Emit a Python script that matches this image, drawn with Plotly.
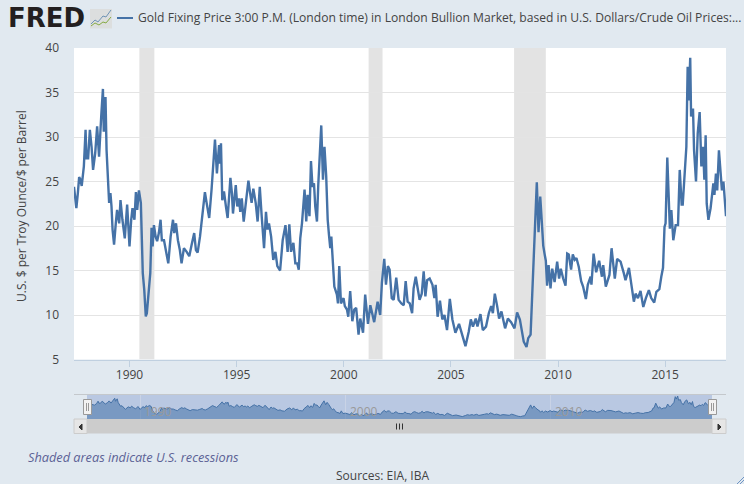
import plotly.graph_objects as go

W = 744
H = 484

years = [
    1987.41, 1987.46, 1987.52, 1987.59, 1987.65, 1987.71, 1987.77, 1987.87, 1987.95, 1987.99, 1988.07, 1988.15,
    1988.23, 1988.30, 1988.40, 1988.49, 1988.58, 1988.68, 1988.76, 1988.80, 1988.88, 1988.93, 1988.99, 1989.05,
    1989.11, 1989.16, 1989.21, 1989.28, 1989.36, 1989.42, 1989.52, 1989.58, 1989.67, 1989.78, 1989.89, 1989.94,
    1990.00, 1990.08, 1990.14, 1990.23, 1990.30, 1990.36, 1990.44, 1990.53, 1990.58, 1990.62, 1990.69, 1990.76,
    1990.81, 1990.87, 1990.97, 1991.03, 1991.08, 1991.14, 1991.22, 1991.29, 1991.37, 1991.45, 1991.51, 1991.61,
    1991.70, 1991.81, 1991.92, 1992.03, 1992.09, 1992.17, 1992.26, 1992.35, 1992.43, 1992.54, 1992.67, 1992.79,
    1992.90, 1993.02, 1993.10, 1993.18, 1993.29, 1993.37, 1993.45, 1993.52, 1993.60, 1993.72, 1993.83, 1993.91,
    1993.99, 1994.08, 1994.18, 1994.22, 1994.27, 1994.33, 1994.41, 1994.50, 1994.58, 1994.71, 1994.78, 1994.83,
    1994.96, 1995.03, 1995.11, 1995.17, 1995.24, 1995.33, 1995.44, 1995.55, 1995.63, 1995.70, 1995.78, 1995.89,
    1995.98, 1996.08, 1996.17, 1996.28, 1996.37, 1996.44, 1996.51, 1996.61, 1996.71, 1996.81, 1996.90, 1997.03,
    1997.15, 1997.28, 1997.38, 1997.46, 1997.54, 1997.65, 1997.74, 1997.83, 1997.90, 1997.97, 1998.05, 1998.17,
    1998.25, 1998.31, 1998.40, 1998.47, 1998.54, 1998.61, 1998.67, 1998.75, 1998.81, 1998.89, 1998.95, 1999.03,
    1999.10, 1999.18, 1999.25, 1999.31, 1999.37, 1999.42, 1999.48, 1999.56, 1999.68, 1999.73, 1999.79, 1999.87,
    1999.99, 2000.05, 2000.15, 2000.21, 2000.30, 2000.40, 2000.49, 2000.58, 2000.69, 2000.77, 2000.90, 2001.00,
    2001.13, 2001.24, 2001.42, 2001.58, 2001.70, 2001.78, 2001.89, 2001.97, 2002.06, 2002.14, 2002.24, 2002.33,
    2002.45, 2002.56, 2002.69, 2002.80, 2002.89, 2002.98, 2003.08, 2003.19, 2003.26, 2003.36, 2003.45, 2003.54,
    2003.64, 2003.73, 2003.81, 2003.89, 2004.01, 2004.14, 2004.23, 2004.29, 2004.38, 2004.49, 2004.60, 2004.70,
    2004.82, 2004.95, 2005.07, 2005.21, 2005.38, 2005.49, 2005.68, 2005.83, 2005.93, 2006.03, 2006.16, 2006.24,
    2006.38, 2006.49, 2006.64, 2006.77, 2006.88, 2006.96, 2007.05, 2007.16, 2007.25, 2007.36, 2007.53, 2007.66,
    2007.81, 2007.97, 2008.09, 2008.22, 2008.31, 2008.40, 2008.53, 2008.61, 2008.72, 2008.79, 2008.87, 2008.95,
    2009.01, 2009.09, 2009.17, 2009.24, 2009.31, 2009.37, 2009.43, 2009.49, 2009.56, 2009.65, 2009.73, 2009.84,
    2009.96, 2010.05, 2010.13, 2010.24, 2010.35, 2010.43, 2010.50, 2010.61, 2010.69, 2010.78, 2010.86, 2010.97,
    2011.08, 2011.17, 2011.30, 2011.39, 2011.52, 2011.56, 2011.66, 2011.78, 2011.92, 2012.05, 2012.11, 2012.23,
    2012.40, 2012.50, 2012.65, 2012.76, 2012.92, 2013.07, 2013.15, 2013.31, 2013.42, 2013.54, 2013.62, 2013.73,
    2013.85, 2013.98, 2014.10, 2014.24, 2014.35, 2014.49, 2014.59, 2014.73, 2014.82, 2014.90, 2014.97, 2015.02,
    2015.10, 2015.16, 2015.22, 2015.29, 2015.38, 2015.49, 2015.60, 2015.68, 2015.77, 2015.82, 2015.91, 2015.99,
    2016.05, 2016.10, 2016.17, 2016.21, 2016.30, 2016.35, 2016.44, 2016.52, 2016.61, 2016.69, 2016.77, 2016.83,
    2016.89, 2016.94, 2017.02, 2017.12, 2017.25, 2017.30, 2017.37, 2017.43, 2017.51, 2017.61, 2017.65, 2017.72,
    2017.78, 2017.84,
]
ratio = [
    24.4, 23.3, 22.0, 23.7, 25.5, 25.2, 24.5, 26.7, 30.8, 27.6, 27.6, 30.8,
    28.9, 26.3, 28.2, 31.2, 27.8, 32.3, 35.4, 30.6, 34.5, 28.5, 25.9, 22.6,
    23.7, 22.2, 19.6, 17.9, 20.3, 21.8, 20.3, 22.9, 20.7, 18.6, 22.4, 20.3,
    17.7, 20.7, 22.0, 20.7, 23.8, 21.8, 24.0, 22.6, 18.8, 14.7, 12.8, 9.85,
    10.2, 12.1, 14.7, 19.8, 17.7, 20.1, 18.8, 18.3, 19.2, 20.7, 18.4, 18.4,
    17.0, 15.8, 18.8, 20.7, 19.2, 20.3, 18.4, 17.3, 15.8, 17.5, 17.1, 16.6,
    17.9, 19.2, 17.3, 17.0, 18.8, 20.7, 21.8, 23.8, 22.6, 20.9, 24.1, 27.0,
    29.7, 25.9, 29.1, 27.0, 29.3, 22.9, 23.9, 22.2, 20.9, 25.4, 23.7, 21.4,
    24.6, 22.2, 23.1, 21.6, 23.1, 20.5, 22.9, 25.1, 23.7, 22.6, 24.2, 22.6,
    20.5, 24.4, 21.1, 17.5, 21.6, 19.6, 20.3, 18.8, 16.2, 17.1, 15.5, 15.0,
    18.4, 20.1, 17.1, 20.2, 17.1, 18.1, 15.8, 15.8, 15.1, 18.6, 20.3, 24.1,
    20.5, 23.5, 21.1, 27.3, 24.4, 24.8, 22.2, 20.5, 24.6, 28.4, 31.3, 25.2,
    28.9, 25.6, 20.7, 19.0, 17.5, 18.8, 16.2, 13.2, 12.3, 11.3, 15.5, 11.3,
    11.9, 11.0, 10.6, 9.8, 12.7, 9.3, 10.6, 10.8, 7.8, 9.6, 8.0, 12.3,
    9.0, 11.1, 9.2, 11.5, 10.0, 13.6, 16.3, 13.4, 15.5, 15.1, 11.9, 11.7,
    14.2, 11.7, 11.3, 11.1, 13.8, 11.5, 11.3, 10.2, 13.0, 14.3, 13.0, 11.7,
    12.4, 14.9, 12.1, 13.9, 14.1, 13.4, 11.9, 13.4, 9.8, 11.6, 9.5, 10.0,
    8.3, 11.8, 9.5, 8.0, 9.0, 8.0, 6.5, 8.1, 9.5, 8.7, 9.6, 8.7,
    10.1, 8.3, 8.7, 10.2, 11.0, 10.2, 12.4, 11.0, 9.6, 10.4, 8.5, 9.6,
    9.2, 8.5, 10.3, 9.5, 8.0, 7.0, 6.4, 7.4, 7.8, 11.8, 17.1, 20.1,
    24.9, 19.3, 23.3, 20.6, 17.8, 16.9, 16.1, 13.3, 15.6, 13.0, 15.2, 13.7,
    16.0, 14.1, 15.2, 14.1, 13.3, 16.9, 16.8, 15.1, 16.8, 16.2, 16.4, 15.4,
    13.8, 13.2, 11.8, 13.4, 14.3, 13.4, 16.9, 14.8, 16.1, 14.3, 15.6, 13.2,
    14.5, 17.5, 14.1, 16.3, 16.0, 14.7, 13.9, 15.3, 13.6, 11.5, 12.4, 11.9,
    12.7, 10.9, 11.9, 12.8, 11.9, 11.4, 12.6, 12.9, 14.3, 15.3, 19.9, 20.3,
    27.7, 22.2, 19.7, 21.8, 18.4, 20.1, 20.1, 26.3, 22.4, 22.4, 25.7, 28.9,
    37.9, 34.1, 38.9, 32.3, 33.2, 28.5, 25.0, 30.4, 32.8, 26.7, 28.9, 25.2,
    30.2, 22.5, 20.7, 22.0, 24.8, 23.5, 25.9, 24.0, 28.5, 25.5, 24.0, 25.0,
    22.4, 21.1,
]
recession_start = [1990.46, 2001.16, 2007.95]
recession_end = [1991.16, 2001.81, 2009.43]
x_ticks = [1990, 1995, 2000, 2005, 2010, 2015]
y_ticks = [5, 10, 15, 20, 25, 30, 35, 40]
nav_ticks = [1990, 2000, 2010]

BG = "#E1E9F0"
LINE = "#4572A7"
TEXT = "#444444"
x_range = [1987.41, 2017.84]


def px(x):
    return x / W


def py(y):
    return 1 - y / H


def rect(x0, y0, x1, y1, fill, border=None, layer="below"):
    return dict(type="rect", xref="paper", yref="paper", x0=px(x0), x1=px(x1), y0=py(y0), y1=py(y1),
                fillcolor=fill, line=dict(color=border, width=1) if border else dict(width=0), layer=layer)


def seg(x0, y0, x1, y1, color, width=1):
    return dict(type="line", xref="paper", yref="paper", x0=px(x0), x1=px(x1), y0=py(y0), y1=py(y1),
                line=dict(color=color, width=width), layer="above")


def poly(points, color, width=1, fill=None):
    path = "M " + " L ".join(f"{px(a):.5f},{py(b):.5f}" for a, b in points)
    if fill:
        path += " Z"
    return dict(type="path", xref="paper", yref="paper", path=path, fillcolor=fill,
                line=dict(color=color, width=width), layer="above")


shapes = [
    rect(74, 48, 726, 359.5, "white"),
    rect(87, 395, 712, 419, "#B9C8E2"),
    seg(74, 394.5, 726, 394.5, "#C4C8CC"),
    # scrollbar
    rect(74, 419, 726, 433.5, "#CCCCCC"),
    rect(74, 419, 87, 433.5, "#E6E6E6", "#CCCCCC", "above"),
    rect(712, 419, 726, 433.5, "#E6E6E6", "#CCCCCC", "above"),
    poly([(82, 424), (82, 430), (79, 427)], "#333333", 1, "#333333"),
    poly([(718, 424), (718, 430), (721, 427)], "#333333", 1, "#333333"),
    seg(396.5, 423.5, 396.5, 429.5, "#333333"),
    seg(399.5, 423.5, 399.5, 429.5, "#333333"),
    seg(402.5, 423.5, 402.5, 429.5, "#333333"),
    # navigator handles
    rect(83.5, 399.5, 91.5, 414.5, "#F2F2F2", "#999999", "above"),
    seg(86.5, 403, 86.5, 411, "#999999"),
    seg(88.5, 403, 88.5, 411, "#999999"),
    rect(708.5, 399.5, 716.5, 414.5, "#F2F2F2", "#999999", "above"),
    seg(711.5, 403, 711.5, 411, "#999999"),
    seg(713.5, 403, 713.5, 411, "#999999"),
    # legend key
    seg(117, 18, 133, 18, LINE, 2),
    # FRED icon
    rect(90, 9, 112, 28.5, "#DCDEDE", None, "above"),
    poly([(91, 24), (95, 20), (98, 22), (103, 16), (106, 17), (111, 10)], "#6F93B5", 1),
    poly([(91, 26), (95, 23), (99, 25), (103, 22), (106, 23), (111, 17)], "#86AB45", 1),
    # resize grip
    seg(737, 484, 744, 477, "#6F94C4"),
    seg(740, 484, 744, 480, "#6F94C4"),
]
for start, end in zip(recession_start, recession_end):
    shapes.append(dict(type="rect", xref="x", yref="y", x0=start, x1=end, y0=5, y1=40,
                       fillcolor="#E3E3E3", line=dict(width=0), layer="below"))

annotations = [
    dict(text="<b>FRED</b>", x=px(6), y=py(18.5), font=dict(family="DejaVu Sans", size=26, color="#231F20")),
    dict(text="Gold Fixing Price 3:00 P.M. (London time) in London Bullion Market, based in U.S. Dollars/Crude Oil Prices:...",
         x=px(136), y=py(18), font=dict(family="Open Sans", size=12.1, color=TEXT)),
    dict(text="<i>Shaded areas indicate U.S. recessions</i>", x=px(26), y=py(457),
         font=dict(family="Open Sans", size=12.75, color="#5C6296")),
    dict(text="Sources: EIA, IBA", x=px(334), y=py(475), font=dict(family="Open Sans", size=12, color=TEXT)),
    dict(text="U.S. $ per Troy Ounce/$ per Barrel", x=px(21), y=py(206), textangle=-90, xanchor="center",
         font=dict(family="Open Sans", size=12, color=TEXT)),
]
for a in annotations:
    a.setdefault("xanchor", "left")
    a.update(xref="paper", yref="paper", yanchor="middle", showarrow=False)
for t in nav_ticks:
    annotations.append(dict(text=str(t), x=t, y=py(411), xref="x2", yref="paper", xshift=2, xanchor="left",
                            yanchor="middle", showarrow=False,
                            font=dict(family="Open Sans", size=12, color="#999999")))

fig = go.Figure()
fig.add_trace(go.Scatter(x=years, y=ratio, mode="lines", line=dict(color=LINE, width=2.4), hoverinfo="skip"))
fig.add_trace(go.Scatter(x=years, y=ratio, mode="lines", xaxis="x2", yaxis="y2", fill="tozeroy",
                         fillcolor="rgba(69,114,167,0.55)", line=dict(color=LINE, width=1), hoverinfo="skip"))

fig.update_layout(
    width=W,
    height=H,
    margin=dict(l=0, r=0, t=0, b=0),
    paper_bgcolor=BG,
    plot_bgcolor="rgba(0,0,0,0)",
    showlegend=False,
    shapes=shapes,
    annotations=annotations,
    font=dict(family="Open Sans", size=12, color=TEXT),
    xaxis=dict(domain=[px(74), px(726)], range=x_range, tickvals=x_ticks, ticks="outside", ticklen=6,
               tickcolor="#C0D0E0", showline=True, linecolor="#C0D0E0", showgrid=False, zeroline=False,
               anchor="y", ticklabelstandoff=-2, automargin=False),
    yaxis=dict(domain=[py(359.5), py(48)], range=[5, 40], tickvals=y_ticks, gridcolor="#E4E4E4", gridwidth=1,
               zeroline=False, showline=False, ticks="", anchor="x", ticklabelstandoff=14, automargin=False),
    xaxis2=dict(domain=[px(87), px(712)], range=x_range, tickvals=nav_ticks, showticklabels=False,
                showgrid=True, gridcolor="#C9D3E6", zeroline=False, anchor="y2", automargin=False),
    yaxis2=dict(domain=[py(419), py(395)], range=[2.7, 40.5], showticklabels=False, showgrid=False,
                zeroline=False, anchor="x2", automargin=False),
)

fig.write_html("out.html", config=dict(displayModeBar=False),
               post_script="document.body.style.margin='0';document.body.style.overflow='hidden';")
